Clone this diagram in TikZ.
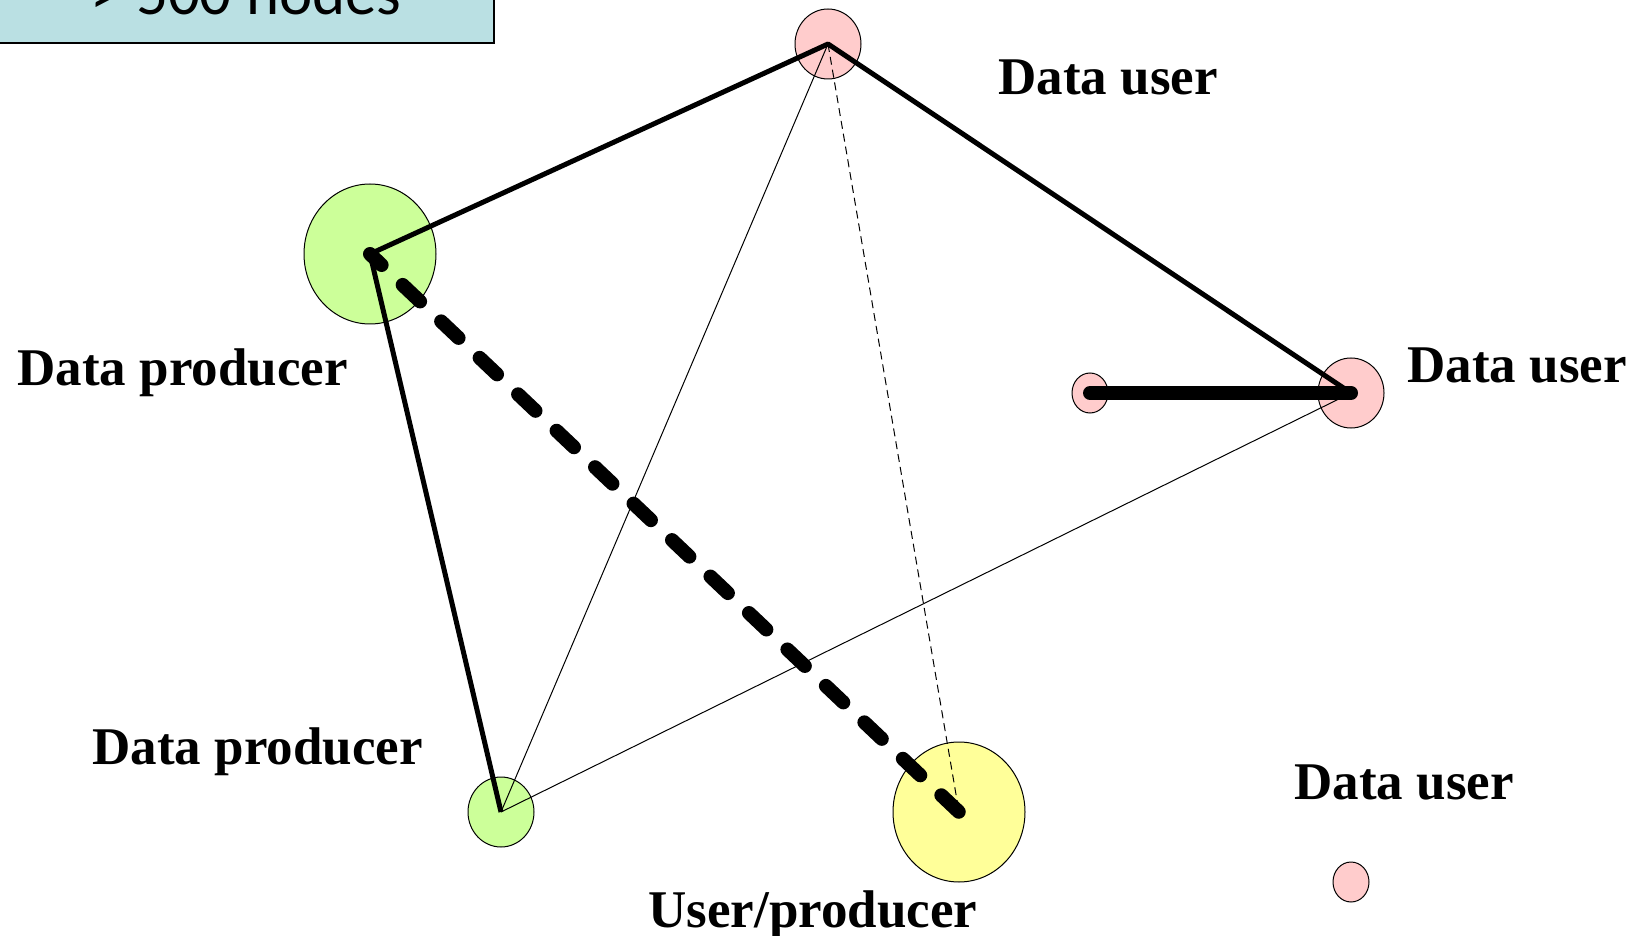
\documentclass[tikz,border=0pt]{standalone}
\usepackage{fontspec}
\setmainfont{Liberation Serif}
\newfontfamily\boxfont{Carlito}
\usetikzlibrary{shapes}

\definecolor{userpink}{HTML}{FFCCCC}
\definecolor{prodgreen}{HTML}{CCFF99}
\definecolor{mixyellow}{HTML}{FFFF99}
\definecolor{boxcyan}{HTML}{BAE0E3}

\begin{document}
\begin{tikzpicture}[x=0.5pt, y=-0.5pt]
  \tikzstyle{site} = [ellipse, draw, line width=0.5pt, inner sep=0pt]
  \tikzstyle{big} = [site, minimum width=66pt, minimum height=70pt]
  \tikzstyle{mid} = [site, minimum width=33pt, minimum height=35pt]
  \tikzstyle{small} = [site, minimum width=18pt, minimum height=20pt]
  \tikzstyle{label} = [anchor=base west, inner sep=0pt,
    font=\bfseries\fontsize{26.5}{30}\selectfont]
  \tikzstyle{link} = [draw, line width=2.5pt, line join=round]
  \tikzstyle{weak} = [draw, line width=0.5pt]
  \tikzstyle{strong} = [draw, line width=7pt, line cap=round]

  \useasboundingbox (0,0) rectangle (1634,936);

  % Place nodes
  \node [draw, line width=1pt, fill=boxcyan, minimum width=247.5pt,
    minimum height=50pt, font=\boxfont\fontsize{31.5}{36}\selectfont]
    (count) at (246,-7) {> 500 nodes};

  \node [mid, fill=userpink] (top) at (828,44) {};
  \node [big, fill=prodgreen] (prodA) at (370,254) {};
  \node [mid, fill=userpink] (right) at (1351,393) {};
  \node [small, fill=userpink] (near) at (1090,393) {};
  \node [mid, fill=prodgreen] (prodB) at (501,812) {};
  \node [big, fill=mixyellow] (mixed) at (959,812) {};
  \node [small, fill=userpink] (lone) at (1351,882) {};

  \node [label] (ltop) at (998,95) {Data user};
  \node [label] (lprodA) at (17,386) {Data producer};
  \node [label] (lright) at (1407,382) {Data user};
  \node [label] (lprodB) at (92,764) {Data producer};
  \node [label] (llone) at (1294,799) {Data user};
  \node [label] (lmixed) at (648,927) {User/producer};

  % Draw edges
  \path [weak] (top.center) -- (prodB.center);
  \path [weak] (prodB.center) -- (right.center);
  \path [weak, dash pattern=on 4pt off 2.5pt] (top.center) -- (mixed.center);

  \path [link] (prodA.center) -- (top.center) -- (right.center);
  \path [link] (prodA.center) -- (prodB.center);

  \path [strong] (near.center) -- (right.center);
  \path [strong, dash pattern=on 12pt off 14.5pt, dash phase=4pt]
    (prodA.center) -- (mixed.center);

\end{tikzpicture}
\end{document}
